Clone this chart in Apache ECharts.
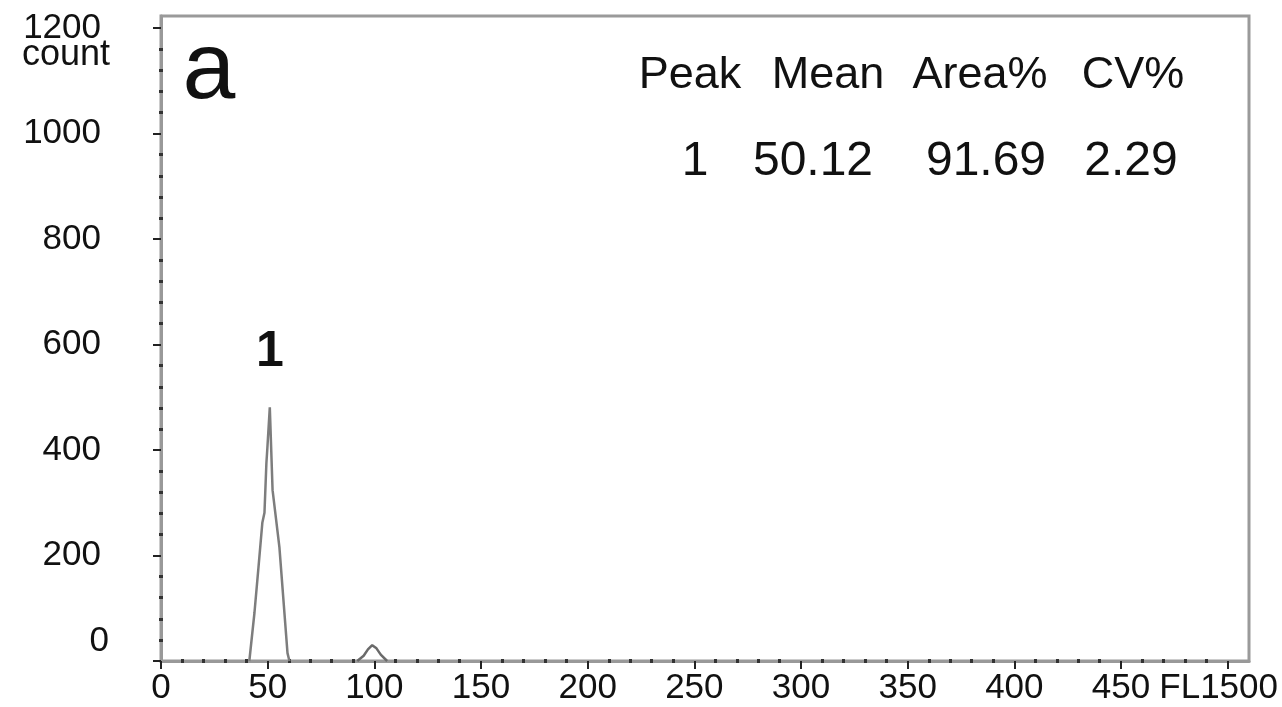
<!DOCTYPE html>
<html>
<head>
<meta charset="utf-8">
<script src="https://cdn.jsdelivr.net/npm/echarts@6/dist/echarts.min.js"></script>
<style>
  html, body { margin: 0; padding: 0; background: #fff; }
  #chart { width: 1282px; height: 707px; }
</style>
</head>
<body>
<div id="chart"></div>
<script>
// FL1 histogram: channel positions and counts
const peakX = [41.4, 43.8, 45.7, 47.5, 48.5, 49.4, 49.8, 51.0, 52.3, 55.5, 59.3, 60.2];
const peakY = [0, 91, 178, 262, 281, 375, 400, 481, 324, 216, 15, 0];
const bumpX = [92, 95, 97, 99, 101, 103, 106];
const bumpY = [0, 10, 22, 30, 24, 12, 0];
const peakLabels = ['1'];

// axis ticks
const xTicks = [0, 50, 100, 150, 200, 250, 300, 350, 400, 450, 500];
const yTicks = [0, 200, 400, 600, 800, 1000, 1200];
const xMinorSteps = 5;
const yMinorSteps = 5;
const yAxisName = 'count';

// peak statistics table
const tableHeader = ['Peak', 'Mean', 'Area%', 'CV%'];
const tableRow = ['1', '50.12', '91.69', '2.29'];

const FONT = '"Liberation Sans", Arial, sans-serif';

function minorTicks(major, steps, limit) {
  const out = [];
  for (let i = 0; i < major.length; i++) {
    const step = (major[1] - major[0]) / steps;
    for (let k = 1; k < steps; k++) {
      const v = major[i] + k * step;
      if (v < limit) out.push(v);
    }
  }
  return out;
}
const xMinor = minorTicks(xTicks, xMinorSteps, 510);
const yMinor = minorTicks(yTicks, yMinorSteps, 1223);

function pairs(xs, ys) { return xs.map((x, i) => [x, ys[i]]); }

const topIndex = peakY.indexOf(Math.max(...peakY));
const peakData = pairs(peakX, peakY).map((p, i) => {
  if (i !== topIndex) return p;
  return {
    value: p,
    label: {
      show: true, formatter: peakLabels[0], position: 'top', distance: 30,
      fontSize: 50, fontWeight: 'bold', color: '#111', fontFamily: FONT
    }
  };
});

const colHeaderX = [690, 828, 980, 1133];
const colRowX = [695, 813, 986, 1131];
const tableTexts = [];
tableHeader.forEach((t, i) => tableTexts.push({
  type: 'text', x: colHeaderX[i], y: 76,
  style: { text: t, font: '45px ' + FONT, fill: '#111', textAlign: 'center', textVerticalAlign: 'middle' }
}));
tableRow.forEach((t, i) => tableTexts.push({
  type: 'text', x: colRowX[i], y: 162,
  style: { text: t, font: '48px ' + FONT, fill: '#111', textAlign: 'center', textVerticalAlign: 'middle' }
}));

const chart = echarts.init(document.getElementById('chart'), null, { renderer: 'canvas' });
chart.setOption({
  animation: false,
  backgroundColor: '#fff',
  grid: {
    left: 161, top: 16, right: 33, bottom: 46,
    outerBoundsMode: 'none', containLabel: false,
    show: true, borderColor: '#9a9a9a', borderWidth: 3, backgroundColor: 'transparent'
  },
  xAxis: [{
    type: 'value', min: 0, max: 510, interval: 50,
    axisLine: { show: true, lineStyle: { color: '#999', width: 3 } },
    axisTick: { show: true, customValues: xTicks, length: 8, lineStyle: { color: '#222', width: 2 } },
    axisLabel: {
      customValues: xTicks, margin: 10, fontSize: 35, color: '#111', fontFamily: FONT,
      formatter: v => v === 500 ? '{e|FL1500}' : String(v),
      rich: { e: { fontSize: 35, color: '#111', fontFamily: FONT, padding: [0, 18, 0, 0] } }
    },
    splitLine: { show: false }
  }, {
    type: 'value', min: 0, max: 510, position: 'bottom', offset: -2,
    axisLine: { show: false },
    axisTick: { show: true, customValues: xMinor, length: 4, lineStyle: { color: '#333', width: 3 } },
    axisLabel: { show: false },
    splitLine: { show: false }
  }],
  yAxis: [{
    type: 'value', min: 0, max: 1223, interval: 200,
    axisLine: { show: true, lineStyle: { color: '#999', width: 3 } },
    axisTick: { show: true, customValues: yTicks, length: 8, lineStyle: { color: '#222', width: 2 } },
    axisLabel: {
      customValues: yTicks, margin: 52, fontSize: 35, color: '#111', fontFamily: FONT,
      formatter: v => v === 0 ? '{z|0}' : '{n|' + v + '}',
      rich: {
        z: { fontSize: 35, color: '#111', fontFamily: FONT, padding: [0, 0, 40, 0] },
        n: { fontSize: 35, color: '#111', fontFamily: FONT, padding: [0, 8, 0, 0] }
      }
    },
    splitLine: { show: false }
  }, {
    type: 'value', min: 0, max: 1223, position: 'left', offset: -2,
    axisLine: { show: false },
    axisTick: { show: true, customValues: yMinor, length: 4, lineStyle: { color: '#333', width: 3 } },
    axisLabel: { show: false },
    splitLine: { show: false }
  }],
  series: [{
    type: 'line', xAxisIndex: 0, yAxisIndex: 0, data: peakData,
    symbol: 'circle', symbolSize: 0, showSymbol: true,
    lineStyle: { color: '#7d7d7d', width: 2.5 }, z: 3
  }, {
    type: 'line', xAxisIndex: 0, yAxisIndex: 0, data: pairs(bumpX, bumpY),
    symbol: 'none', lineStyle: { color: '#6a6a6a', width: 2.5 }, z: 3
  }],
  graphic: [{
    type: 'text', x: 209, y: 72,
    style: { text: 'a', font: '95px ' + FONT, fill: '#111', textAlign: 'center', textVerticalAlign: 'middle' }
  }, {
    type: 'text', x: 110, y: 55,
    style: { text: yAxisName, font: '36px ' + FONT, fill: '#111', textAlign: 'right', textVerticalAlign: 'middle' }
  }].concat(tableTexts)
});
</script>
</body>
</html>
